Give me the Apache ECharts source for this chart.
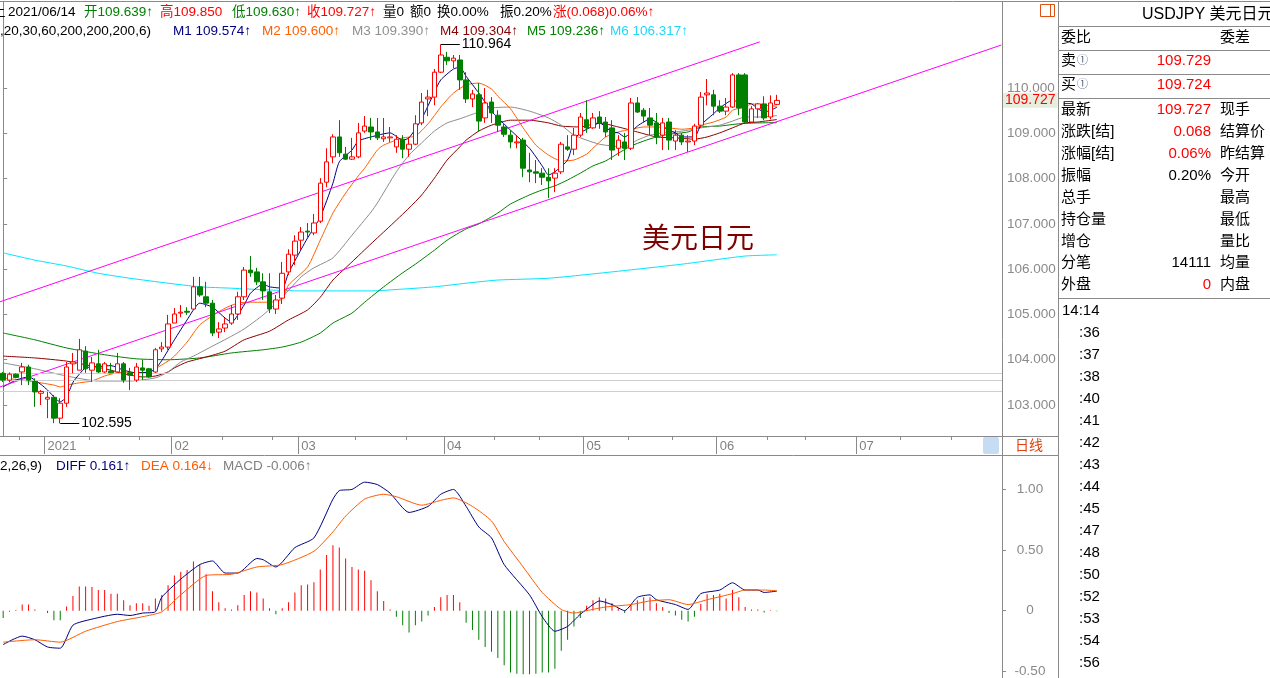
<!DOCTYPE html>
<html><head><meta charset="utf-8">
<script src="https://cdn.jsdelivr.net/npm/echarts@6/dist/echarts.min.js"></script>
<style>html,body{margin:0;padding:0;background:#fff;}#c{width:1270px;height:678px;}</style>
</head><body><div id="c"></div>
<script>
// ---------- DATA ----------
const SLOTS = 158;                      // trading-day slots shown on the axis (Dec 24 2020 .. )
const monthTickIdx = [7, 27, 47, 70, 92, 113, 135];
const monthTickLabels = ['2021', '02', '03', '04', '05', '06', '07'];
const minorTickIdx = [3, 14, 22, 35, 43, 56, 64, 78, 85, 99, 106, 121, 127, 142, 150];
const priceTicks = [103, 104, 105, 106, 107, 108, 109, 110];
const macdTicks = [1, 0.5, 0, -0.5];
const refLevels = [103.70, 103.54, 103.31];
const highMark = {from: 69, to: 72, value: 110.964};
const lowMark = {from: 9, to: 12, value: 102.595};
const lastPrice = 109.727;

// [open, close, low, high]
const ohlc = [
[103.70,103.55,103.51,103.73],[103.55,103.68,103.50,103.72],[103.68,103.61,103.59,103.70],[103.73,103.84,103.44,103.93],
[103.84,103.55,103.44,103.89],[103.52,103.29,102.96,103.59],[103.26,103.30,103.00,103.33],[103.13,103.17,102.71,103.29],
[103.17,102.71,102.60,103.22],[102.71,103.04,102.595,103.15],[103.04,103.84,102.96,103.95],[103.91,103.95,103.70,104.15],
[103.77,104.22,103.77,104.46],[104.19,103.80,103.71,104.30],[103.77,103.93,103.51,104.06],[103.91,103.73,103.71,104.22],
[103.73,103.91,103.71,103.95],[103.75,103.71,103.70,103.93],[103.73,103.91,103.71,104.15],[103.91,103.55,103.49,103.95],
[103.71,103.66,103.33,103.82],[103.55,103.84,103.51,103.93],[103.82,103.77,103.55,104.00],[103.80,103.62,103.60,103.82],
[103.73,104.22,103.71,104.26],[104.24,104.28,104.17,104.39],[104.28,104.79,104.22,104.99],[104.81,105.01,104.81,105.14],
[105.03,105.05,104.94,105.21],[105.07,105.05,104.99,105.16],[105.12,105.61,105.10,105.83],[105.61,105.43,105.39,105.83],
[105.39,105.25,105.16,105.72],[105.25,104.59,104.52,105.32],[104.61,104.68,104.48,104.83],[104.70,104.79,104.61,104.92],
[104.81,105.01,104.77,105.21],[105.01,105.39,104.88,105.50],[105.39,105.98,105.32,106.05],[105.98,105.92,105.83,106.29],
[105.94,105.72,105.65,106.03],[105.72,105.52,105.32,105.91],[105.50,105.12,105.03,105.91],[105.12,105.32,105.01,105.43],
[105.36,105.91,105.23,106.16],[105.94,106.33,105.87,106.44],[106.31,106.62,106.09,106.75],[106.64,106.82,106.42,106.93],
[106.84,106.82,106.71,107.02],[106.80,107.02,106.75,107.22],[107.06,107.90,107.02,108.01],[107.92,108.37,107.81,108.67],
[108.48,108.92,108.34,108.98],[108.92,108.57,108.48,109.29],[108.54,108.43,108.41,108.70],[108.43,108.48,108.41,108.90],
[108.48,109.01,108.45,109.23],[109.05,109.16,109.01,109.38],[109.14,109.03,108.85,109.34],[109.03,108.90,108.85,109.34],
[108.88,108.92,108.81,109.34],[108.90,108.92,108.81,109.14],[108.70,108.87,108.57,108.96],[108.87,108.65,108.45,108.96],
[108.65,108.76,108.48,108.92],[108.76,109.21,108.74,109.40],[109.23,109.69,109.18,109.89],[109.76,109.80,109.38,109.96],
[109.80,110.35,109.62,110.42],[110.35,110.73,110.33,110.964],[110.68,110.60,110.51,110.80],[110.60,110.66,110.44,110.73],
[110.62,110.18,109.96,110.73],[110.18,109.76,109.67,110.35],[109.76,109.87,109.58,109.96],[109.85,109.27,109.03,110.11],
[109.34,109.67,109.23,110.00],[109.69,109.45,109.23,109.80],[109.40,109.18,109.03,109.51],[109.14,108.98,108.92,109.23],
[108.96,108.81,108.67,109.07],[108.79,108.81,108.67,108.96],[108.85,108.23,108.03,108.90],[108.19,108.15,107.92,108.57],
[108.15,108.12,107.90,108.41],[108.12,108.03,107.86,108.23],[108.03,107.95,107.57,108.23],[108.01,108.12,107.70,108.23],
[108.15,108.76,108.10,108.81],[108.70,108.65,108.61,108.96],[108.65,108.96,108.52,109.12],[108.96,109.36,108.92,109.45],
[109.30,109.12,109.01,109.73],[109.12,109.34,109.10,109.45],[109.36,109.23,109.10,109.49],[109.25,109.03,108.92,109.36],
[109.12,108.63,108.41,109.29],[108.67,108.85,108.50,108.96],[108.81,108.67,108.41,109.01],[108.67,109.67,108.63,109.78],
[109.67,109.47,109.45,109.80],[109.51,109.38,109.23,109.56],[109.34,109.18,108.96,109.56],[109.23,108.92,108.76,109.45],
[108.96,109.23,108.63,109.34],[109.25,108.85,108.63,109.34],[108.83,108.96,108.63,109.07],[108.96,108.81,108.74,109.01],
[108.81,108.83,108.59,108.96],[108.83,109.16,108.74,109.21],[109.18,109.80,109.12,109.91],[109.85,109.89,109.62,110.20],
[109.85,109.60,109.40,109.96],[109.60,109.49,109.45,109.73],[109.49,109.58,109.40,109.78],[109.58,110.29,109.56,110.33],
[110.29,109.56,109.40,110.33],[110.29,109.25,109.23,110.33],[109.25,109.54,109.23,109.60],[109.54,109.65,109.34,109.67],
[109.65,109.34,109.29,109.82],[109.36,109.67,109.31,109.84],[109.639,109.727,109.630,109.850]
];

// moving averages: [bar index, value]
const ma1 = [[0,103.40],[2,103.55],[4,103.62],[6,103.45],[7,103.33],[9,103.07],[10,103.18],[11,103.50],[12,103.68],[13,103.82],[15,103.85],[17,103.87],[19,103.77],[21,103.71],[23,103.73],[24,103.80],[25,103.98],[27,104.44],[29,104.88],[31,105.25],[33,105.16],[35,104.92],[36,104.83],[38,105.21],[39,105.47],[41,105.67],[42,105.61],[44,105.58],[45,105.92],[47,106.44],[48,106.69],[50,107.15],[52,107.90],[53,108.37],[55,108.63],[56,108.83],[58,108.92],[61,109.01],[63,108.85],[64,108.90],[66,109.32],[68,109.91],[69,110.18],[71,110.42],[72,110.46],[73,110.26],[75,109.89],[77,109.49],[78,109.34],[80,109.07],[83,108.67],[85,108.28],[86,108.08],[87,108.15],[89,108.41],[90,108.85],[91,109.01],[93,109.16],[94,109.23],[96,109.03],[97,109.01],[98,108.92],[100,109.16],[101,109.25],[102,109.32],[104,109.14],[106,109.01],[107,108.92],[109,108.92],[110,109.18],[112,109.43],[113,109.56],[115,109.73],[116,109.69],[117,109.67],[118,109.65],[120,109.47],[121,109.51],[122,109.574]];
const ma2 = [[0,103.60],[5,103.51],[8,103.44],[9,103.40],[10,103.44],[12,103.49],[14,103.53],[16,103.64],[18,103.71],[20,103.71],[23,103.71],[24,103.80],[26,103.97],[27,104.08],[29,104.39],[31,104.77],[33,104.97],[35,105.14],[37,105.25],[39,105.27],[42,105.27],[44,105.34],[45,105.65],[48,106.05],[50,106.64],[52,107.24],[54,107.68],[56,108.06],[57,108.23],[59,108.63],[60,108.74],[63,108.90],[65,108.94],[67,109.21],[69,109.58],[71,109.89],[73,110.07],[75,110.11],[77,109.98],[78,109.82],[80,109.54],[82,109.12],[84,108.74],[86,108.52],[88,108.39],[90,108.41],[92,108.54],[93,108.67],[95,108.92],[97,109.03],[99,109.09],[101,109.14],[103,109.14],[105,109.12],[107,109.09],[109,109.12],[110,109.18],[112,109.25],[114,109.36],[115,109.51],[117,109.58],[118,109.65],[120,109.62],[122,109.600]];
const ma3 = [[0,103.93],[5,103.80],[10,103.64],[15,103.53],[20,103.53],[24,103.60],[26,103.73],[28,103.95],[30,104.08],[33,104.30],[36,104.52],[38,104.68],[41,104.99],[44,105.38],[47,105.83],[49,106.03],[52,106.25],[55,106.75],[58,107.26],[59,107.46],[62,108.15],[64,108.52],[66,108.79],[68,109.05],[70,109.23],[72,109.32],[75,109.47],[77,109.56],[80,109.58],[83,109.49],[86,109.34],[88,109.18],[90,108.96],[92,108.85],[94,108.76],[96,108.72],[98,108.70],[100,108.85],[102,108.96],[104,109.01],[106,109.03],[108,109.07],[110,109.12],[113,109.18],[115,109.27],[117,109.36],[119,109.36],[122,109.390]];
const ma4 = [[0,104.08],[5,104.04],[10,103.97],[14,103.86],[17,103.77],[19,103.69],[22,103.62],[24,103.64],[26,103.73],[27,103.82],[29,103.95],[32,104.06],[35,104.19],[38,104.44],[42,104.63],[45,104.88],[48,105.10],[50,105.38],[52,105.76],[55,106.16],[58,106.56],[61,106.95],[64,107.35],[66,107.64],[68,108.01],[70,108.41],[72,108.70],[73,108.85],[75,109.05],[77,109.18],[80,109.29],[83,109.29],[86,109.23],[88,109.16],[91,109.14],[94,109.23],[97,109.14],[100,109.03],[103,108.92],[106,108.90],[109,108.87],[111,108.92],[113,109.01],[115,109.12],[117,109.23],[119,109.25],[122,109.304]];
const ma5 = [[0,104.59],[5,104.44],[10,104.26],[16,104.11],[21,104.02],[26,104.00],[31,104.04],[36,104.15],[41,104.22],[44,104.28],[47,104.39],[50,104.59],[52,104.81],[55,105.03],[57,105.27],[60,105.61],[63,105.92],[65,106.11],[68,106.42],[70,106.64],[73,106.89],[75,107.00],[78,107.24],[80,107.44],[83,107.64],[85,107.75],[87,107.84],[89,107.97],[91,108.12],[93,108.28],[95,108.39],[97,108.56],[99,108.72],[101,108.83],[103,108.92],[105,108.98],[108,109.03],[110,109.14],[113,109.16],[116,109.21],[119,109.23],[122,109.236]];
const ma6 = [[0,106.36],[5,106.20],[10,106.07],[15,105.91],[20,105.80],[26,105.69],[31,105.61],[36,105.58],[42,105.54],[47,105.52],[52,105.52],[58,105.52],[63,105.56],[68,105.61],[73,105.69],[78,105.76],[86,105.80],[96,105.94],[107,106.11],[117,106.29],[122,106.317]];

// hand-drawn channel lines: [bar position, price]
const channelUpper = [[-0.5,105.28],[119.3,111.02]];
const channelLower = [[-0.5,103.40],[157.4,110.95]];

// MACD (12,26,9)
const diff = [[0,-0.28],[3,-0.21],[5,-0.24],[7,-0.30],[9,-0.31],[11,-0.12],[14,-0.07],[18,-0.03],[20,-0.04],[22,-0.02],[24,-0.01],[25,0.11],[28,0.26],[31,0.38],[33,0.41],[35,0.31],[37,0.31],[40,0.43],[41,0.42],[43,0.36],[46,0.52],[49,0.60],[52,0.92],[53,0.99],[55,1.00],[57,1.06],[59,1.04],[61,0.97],[64,0.81],[67,0.86],[69,0.96],[71,1.00],[73,0.86],[75,0.69],[77,0.60],[79,0.38],[83,0.13],[85,-0.05],[87,-0.17],[89,-0.13],[91,-0.03],[93,0.05],[94,0.08],[96,0.05],[98,0.00],[100,0.11],[102,0.13],[103,0.09],[106,0.05],[108,0.01],[110,0.14],[113,0.17],[115,0.23],[117,0.17],[119,0.17],[120,0.15],[122,0.161]];
const dea = [[0,-0.26],[5,-0.24],[9,-0.26],[13,-0.17],[18,-0.09],[22,-0.05],[25,-0.01],[28,0.13],[32,0.29],[36,0.30],[40,0.36],[44,0.38],[49,0.49],[52,0.65],[54,0.78],[57,0.92],[60,0.96],[62,0.94],[66,0.87],[69,0.91],[71,0.93],[74,0.86],[77,0.74],[79,0.57],[82,0.36],[85,0.15],[88,0.01],[90,-0.02],[92,0.00],[95,0.03],[99,0.05],[102,0.08],[105,0.09],[108,0.05],[111,0.09],[115,0.14],[117,0.17],[120,0.17],[122,0.164]];
const macdHist = [-0.06,-0.01,0.005,0.05,0.05,0.01,0.0,-0.02,-0.08,-0.08,0.035,0.12,0.20,0.20,0.195,0.17,0.17,0.14,0.14,0.085,
0.045,0.06,0.06,0.04,0.10,0.13,0.21,0.29,0.32,0.335,0.405,0.38,0.30,0.16,0.07,0.02,0.01,0.045,0.13,0.16,
0.15,0.10,0.02,-0.03,0.02,0.07,0.15,0.21,0.215,0.235,0.34,0.46,0.54,0.52,0.43,0.36,0.34,0.33,0.25,0.16,
0.08,0.01,-0.05,-0.12,-0.18,-0.12,-0.09,-0.04,0.03,0.11,0.13,0.13,0.07,-0.10,-0.16,-0.24,-0.30,-0.34,-0.39,-0.45,
-0.51,-0.52,-0.55,-0.53,-0.52,-0.51,-0.51,-0.48,-0.33,-0.24,-0.13,-0.06,0.04,0.085,0.11,0.10,0.06,0.02,-0.02,0.05,
0.085,0.11,0.11,0.06,0.03,-0.02,-0.04,-0.075,-0.09,-0.05,0.055,0.135,0.13,0.14,0.10,0.17,0.11,0.03,0.01,0.01,
-0.015,0.003,-0.006];

// ---------- BUILD ----------
const dates = [];
(function(){ const d = new Date(Date.UTC(2020,11,24));
  while (dates.length < SLOTS) { const w = d.getUTCDay();
    if (w !== 0 && w !== 6) dates.push(d.getUTCFullYear()+'/'+String(d.getUTCMonth()+1).padStart(2,'0')+'/'+String(d.getUTCDate()).padStart(2,'0'));
    d.setUTCDate(d.getUTCDate()+1); } })();

const F = '"Liberation Sans", Arial, "Noto Sans CJK SC", sans-serif';
const GRAY = '#8a8a8a';
const HS = 13.5;   // header font size
const C = {m1:'#000080', m2:'#ff6000', m3:'#8c8c8c', m4:'#8b0000', m5:'#008000', m6:'#00e5ff',
  up:'#ff0000', down:'#008000', chan:'#ff00ff', diff:'#000080', dea:'#ff5a00'};

function T(x, y, text, color, size, align) {
  return {type:'text', x:x, y:y, z:100, silent:true,
    style:{text:text, fill:color||'#000', font:'normal '+(size||14)+'px '+F,
      textAlign:align||'left', textVerticalAlign:'middle'}};
}
function L(x1,y1,x2,y2,color){ return {type:'line', z:50, silent:true, shape:{x1:x1,y1:y1,x2:x2,y2:y2}, style:{stroke:color||GRAY, lineWidth:1}}; }

const g = [];
// frame
g.push(L(0,1.5,1270,1.5));
g.push(L(1002.5,1,1002.5,678));
g.push(L(1058.5,1,1058.5,678));
g.push(L(0,436.5,1058,436.5));
g.push(L(0,455.5,1058,455.5));
[26.5,50.5,74.5,98.5,298.5].forEach(y=>g.push(L(1058,y,1270,y)));
g.push({type:'rect', z:40, silent:true, shape:{x:983,y:437,width:16,height:17,r:2}, style:{fill:'#c6dcf4'}});
g.push({type:'rect', z:60, silent:true, shape:{x:1040.5,y:4.5,width:14,height:12}, style:{fill:'none', stroke:'#e05010', lineWidth:1}});
g.push(L(1050.5,4.5,1050.5,16.5,'#e05010'));
g.push(T(1029,446,'日线','#e04010',14,'center'));
// header row 1
g.push(T(-8,12,'上','#000',HS));
g.push(T(8,12,'2021/06/14','#000',HS));
g.push(T(84,12,'开109.639↑','#008000',HS));
g.push(T(160,12,'高109.850','#ff0000',HS));
g.push(T(232,12,'低109.630↑','#008000',HS));
g.push(T(307,12,'收109.727↑','#ff0000',HS));
g.push(T(383,12,'量0','#000',HS));
g.push(T(410,12,'额0','#000',HS));
g.push(T(437,12,'换0.00%','#000',HS));
g.push(T(500,12,'振0.20%','#000',HS));
g.push(T(553,12,'涨(0.068)0.06%↑','#ff0000',HS));
// header row 2
g.push(T(0,31,',20,30,60,200,200,200,6)','#000',HS));
g.push(T(173,31,'M1 109.574↑',C.m1,HS));
g.push(T(262,31,'M2 109.600↑',C.m2,HS));
g.push(T(352,31,'M3 109.390↑','#909090',HS));
g.push(T(440,31,'M4 109.304↑',C.m4,HS));
g.push(T(527,31,'M5 109.236↑',C.m5,HS));
g.push(T(610,31,'M6 106.317↑','#20d8f8',HS));
// MACD header
g.push(T(0,466,'2,26,9)','#000',HS));
g.push(T(56,466,'DIFF 0.161↑',C.diff,HS));
g.push(T(141,466,'DEA 0.164↓',C.dea,HS));
g.push(T(223,466,'MACD -0.006↑','#808080',HS));
// big title
g.push(T(642,240,'美元日元','#800000',28));
// right panel
g.push(T(1142,15,'USDJPY 美元日元','#000',16));
g.push(T(1061,38,'委比','#000',15)); g.push(T(1220,38,'委差','#000',15));
g.push(T(1061,61,'卖','#000',15)); g.push(T(1077,61,'①','#556080',11));
g.push(T(1211,61,'109.729','#ff0000',15,'right'));
g.push(T(1061,85,'买','#000',15)); g.push(T(1077,85,'①','#556080',11));
g.push(T(1211,85,'109.724','#ff0000',15,'right'));
const rows = [['最新','109.727','#ff0000','现手'],['涨跌[结]','0.068','#ff0000','结算价'],['涨幅[结]','0.06%','#ff0000','昨结算'],
  ['振幅','0.20%','#000','今开'],['总手','','#000','最高'],['持仓量','','#000','最低'],['增仓','','#000','量比'],
  ['分笔','14111','#000','均量'],['外盘','0','#ff0000','内盘']];
rows.forEach((r,i)=>{ const y = 110 + i*21.9;
  g.push(T(1061,y,r[0],'#000',15)); if (r[1]) g.push(T(1211,y,r[1],r[2],15,'right')); g.push(T(1220,y,r[3],'#000',15)); });
g.push(T(1062,310.5,'14:14','#000',15));
const mins = [':36',':37',':38',':40',':41',':42',':43',':44',':45',':47',':48',':50',':52',':53',':54',':56'];
mins.forEach((m,i)=>g.push(T(1079,332.7+i*22,m,'#000',15)));

const lineS = (name, data, color, xi, yi, extra) => Object.assign({name:name, type:'line', xAxisIndex:xi, yAxisIndex:yi,
  data:data, symbol:'none', showSymbol:false, smooth:0.2, silent:true, lineStyle:{color:color, width:1}, z:3}, extra||{});

const option = {
  animation:false,
  backgroundColor:'#ffffff',
  textStyle:{fontFamily:F},
  grid:[{left:0, top:2, width:1002, height:434}, {left:0, top:456, width:1002, height:222}],
  xAxis:[
    {type:'category', gridIndex:0, data:dates, boundaryGap:true,
      axisLine:{show:true, lineStyle:{color:GRAY}},
      axisTick:{show:true, length:18, interval:(i)=>monthTickIdx.indexOf(i)>=0, lineStyle:{color:GRAY}},
      axisLabel:{show:true, interval:(i)=>monthTickIdx.indexOf(i)>=0, align:'left', margin:4, color:'#808080', fontSize:13, fontFamily:F,
        formatter:(v,i)=>{const k=monthTickIdx.indexOf(i); return k>=0?monthTickLabels[k]:'';}},
      splitLine:{show:false}},
    {type:'category', gridIndex:1, data:dates, boundaryGap:true, show:false},
    {type:'value', gridIndex:0, min:-0.5, max:SLOTS-0.5, show:false},
    {type:'category', gridIndex:0, data:dates, boundaryGap:true, position:'bottom',
      axisLine:{show:false}, axisLabel:{show:false}, splitLine:{show:false},
      axisTick:{show:true, length:4, interval:(i)=>minorTickIdx.indexOf(i)>=0, lineStyle:{color:GRAY}}}
  ],
  yAxis:[
    {type:'value', gridIndex:0, position:'right', min:102.316, max:111.9, scale:true,
      axisLine:{show:true, lineStyle:{color:GRAY}},
      axisTick:{show:true, length:4, customValues:priceTicks, lineStyle:{color:GRAY}},
      axisLabel:{show:true, customValues:priceTicks, margin:5, color:'#8a8a8a', fontSize:13.5, fontFamily:F, formatter:(v)=>v.toFixed(3)},
      splitLine:{show:false}},
    {type:'value', gridIndex:1, position:'right', min:-0.5248, max:1.2757,
      axisLine:{show:true, lineStyle:{color:GRAY}},
      axisTick:{show:true, length:4, customValues:macdTicks, lineStyle:{color:GRAY}},
      axisLabel:{show:true, customValues:macdTicks, margin:28, align:'center', color:'#8a8a8a', fontSize:13.5, fontFamily:F,
        formatter:(v)=> v===0?'0':v.toFixed(2)},
      splitLine:{show:false}}
  ],
  graphic:g,
  series:[
    {name:'refLevels', type:'line', xAxisIndex:0, yAxisIndex:0, data:[], silent:true,
      markLine:{silent:true, symbol:['none','none'], label:{show:false}, lineStyle:{color:'#cfcfcf', type:'solid', width:1},
        data:refLevels.map(v=>({yAxis:v}))}},
    lineS('M6', ma6, C.m6, 0, 0),
    lineS('M5', ma5, C.m5, 0, 0),
    lineS('M4', ma4, C.m4, 0, 0),
    lineS('M3', ma3, C.m3, 0, 0),
    lineS('M2', ma2, C.m2, 0, 0),
    lineS('M1', ma1, C.m1, 0, 0),
    lineS('upper', channelUpper, C.chan, 2, 0, {smooth:false, z:4}),
    lineS('lower', channelLower, C.chan, 2, 0, {smooth:false, z:4}),
    {name:'K', type:'candlestick', xAxisIndex:0, yAxisIndex:0, data:ohlc, barWidth:5, z:5, silent:true,
      itemStyle:{color:'#ffffff', color0:C.down, borderColor:C.up, borderColor0:C.down, borderWidth:1},
      markLine:{silent:true, symbol:['none','none'], animation:false,
        data:[
          [{coord:[highMark.from, highMark.value], lineStyle:{color:'#000', width:1, type:'solid'},
            label:{show:true, position:'end', formatter:String(highMark.value), color:'#000', fontSize:14, fontFamily:F, distance:2}},
           {coord:[highMark.to, highMark.value]}],
          [{coord:[lowMark.from, lowMark.value], lineStyle:{color:'#000', width:1, type:'solid'},
            label:{show:true, position:'end', formatter:String(lowMark.value), color:'#000', fontSize:14, fontFamily:F, distance:2}},
           {coord:[lowMark.to, lowMark.value]}]
        ]}},
    {name:'lastTag', type:'line', xAxisIndex:0, yAxisIndex:0, data:[], silent:true, z:20,
      markLine:{silent:true, symbol:['none','none'], animation:false,
        lineStyle:{color:'rgba(255,255,255,0)', width:1, type:'solid'},
        label:{show:true, position:'end', formatter:lastPrice.toFixed(3), color:'#ff0000', backgroundColor:'#e6eedd',
          padding:[1,2,0,2], fontSize:14, fontFamily:F, distance:1},
        data:[{yAxis:lastPrice}]}},
    {name:'MACD', type:'bar', xAxisIndex:1, yAxisIndex:1, data:macdHist, barWidth:1, silent:true,
      itemStyle:{color:(p)=>p.value>=0?C.up:C.down}},
    lineS('DIFF', diff, C.diff, 1, 1, {z:4}),
    lineS('DEA', dea, C.dea, 1, 1, {z:4})
  ]
};
const chart = echarts.init(document.getElementById('c'), null, {renderer:'canvas'});
chart.setOption(option);
</script></body></html>
